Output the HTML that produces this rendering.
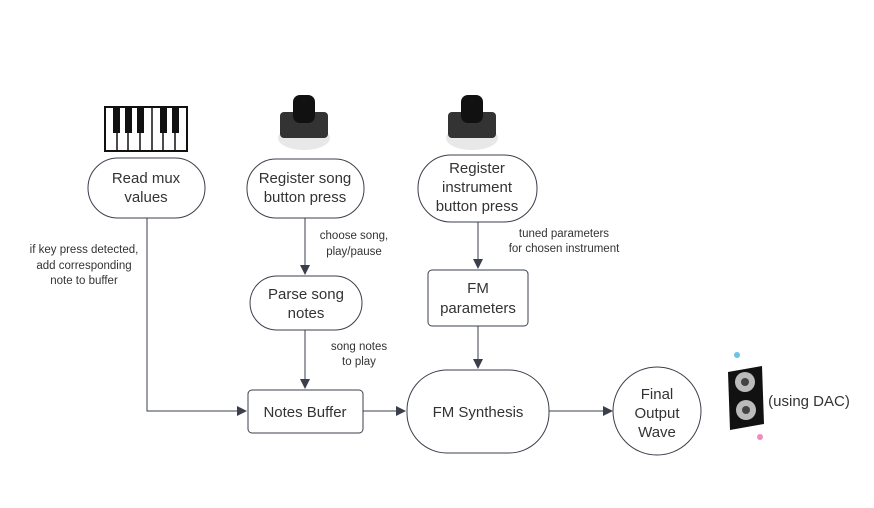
<!DOCTYPE html>
<html><head><style>
body{margin:0;background:#fff;}
svg text{font-family:"Liberation Sans",sans-serif;fill:#333;}
</style></head><body>
<svg width="874" height="503" viewBox="0 0 874 503" xmlns="http://www.w3.org/2000/svg">
<defs><marker id="a" markerWidth="10" markerHeight="10" refX="9" refY="5" orient="auto" markerUnits="userSpaceOnUse"><path d="M0,0 L10,5 L0,10 z" fill="#3a3f4b"/></marker></defs>
<g stroke="#3a3f4b" stroke-width="1" fill="none">
<!-- piano -->
<rect x="105" y="107" width="82" height="44" fill="#fff" stroke="#111" stroke-width="2"/>
<g stroke="#111" stroke-width="1.5"><line x1="117" y1="107" x2="117" y2="151"/><line x1="128" y1="107" x2="128" y2="151"/><line x1="140" y1="107" x2="140" y2="151"/><line x1="152" y1="107" x2="152" y2="151"/><line x1="163" y1="107" x2="163" y2="151"/><line x1="175" y1="107" x2="175" y2="151"/></g>
<g fill="#111" stroke="none"><rect x="113" y="107" width="7" height="26"/><rect x="125" y="107" width="7" height="26"/><rect x="137" y="107" width="7" height="26"/><rect x="160" y="107" width="7" height="26"/><rect x="172" y="107" width="7" height="26"/></g>
<!-- buttons -->
<g stroke="none">
<ellipse cx="304" cy="138" rx="26" ry="12" fill="#e8e8e8"/>
<rect x="280" y="112" width="48" height="26" rx="4" fill="#333"/>
<rect x="293" y="95" width="22" height="28" rx="7" fill="#111"/>
<ellipse cx="472" cy="138" rx="26" ry="12" fill="#e8e8e8"/>
<rect x="448" y="112" width="48" height="26" rx="4" fill="#333"/>
<rect x="461" y="95" width="22" height="28" rx="7" fill="#111"/>
</g>
<!-- nodes -->
<rect x="88" y="158" width="117" height="60" rx="30"/>
<rect x="247" y="159" width="117" height="59" rx="29"/>
<rect x="418" y="155" width="119" height="67" rx="33"/>
<rect x="250" y="276" width="112" height="54" rx="27"/>
<rect x="428" y="270" width="100" height="56" rx="4"/>
<rect x="248" y="390" width="115" height="43" rx="4"/>
<rect x="407" y="370" width="142" height="83" rx="40"/>
<circle cx="657" cy="411" r="44"/>
<!-- connectors -->
<path d="M147 218 V411 H246" marker-end="url(#a)"/>
<path d="M305 218 V274" marker-end="url(#a)"/>
<path d="M305 330 V388" marker-end="url(#a)"/>
<path d="M478 222 V268" marker-end="url(#a)"/>
<path d="M478 326 V368" marker-end="url(#a)"/>
<path d="M363 411 H405" marker-end="url(#a)"/>
<path d="M549 411 H612" marker-end="url(#a)"/>
<!-- speaker -->
<g stroke="none"><path d="M728 372 L762 366 L764 424 L730 430 z" fill="#111"/>
<circle cx="745" cy="382" r="10" fill="#bbb"/><circle cx="745" cy="382" r="4" fill="#444"/>
<circle cx="746" cy="410" r="10" fill="#bbb"/><circle cx="746" cy="410" r="4" fill="#444"/>
<circle cx="737" cy="355" r="3" fill="#6bc3e8"/><circle cx="760" cy="437" r="3" fill="#f08ac0"/></g>
</g>
<g font-size="15" text-anchor="middle">
<text x="146" y="183">Read mux</text><text x="146" y="202">values</text>
<text x="305" y="183">Register song</text><text x="305" y="202">button press</text>
<text x="477" y="173">Register</text><text x="477" y="192">instrument</text><text x="477" y="211">button press</text>
<text x="306" y="299">Parse song</text><text x="306" y="318">notes</text>
<text x="478" y="293">FM</text><text x="478" y="313">parameters</text>
<text x="305" y="417">Notes Buffer</text>
<text x="478" y="417">FM Synthesis</text>
<text x="657" y="399">Final</text><text x="657" y="418">Output</text><text x="657" y="437">Wave</text>
<text x="809" y="406">(using DAC)</text>
</g>
<g font-size="11.5" text-anchor="middle">
<text x="84" y="253">if key press detected,</text><text x="84" y="269">add corresponding</text><text x="84" y="284">note to buffer</text>
<text x="354" y="239">choose song,</text><text x="354" y="255">play/pause</text>
<text x="564" y="237">tuned parameters</text><text x="564" y="252">for chosen instrument</text>
<text x="359" y="350">song notes</text><text x="359" y="365">to play</text>
</g>
</svg>
</body></html>
